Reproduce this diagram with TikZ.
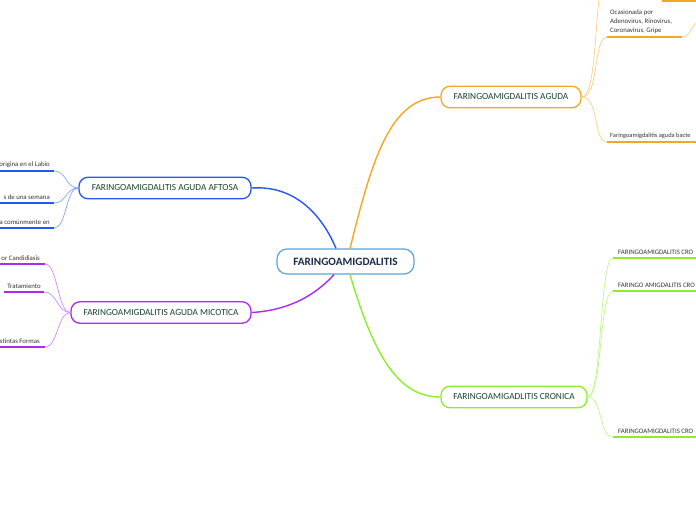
\documentclass[tikz,border=0pt]{standalone}
\usepackage{fontspec}
\setmainfont{Carlito}
\definecolor{rootline}{HTML}{5BA3D9}
\definecolor{roottext}{HTML}{1C2B4A}
\definecolor{topictext}{HTML}{17432F}
\definecolor{leaftext}{HTML}{333333}
\definecolor{orangeM}{HTML}{F5A623}
\definecolor{blueM}{HTML}{2458EE}
\definecolor{purpleM}{HTML}{AA2AEE}
\definecolor{greenM}{HTML}{8CEE2A}
\begin{document}
\begin{tikzpicture}[x=1pt, y=-1pt,
    root/.style={draw=rootline, line width=1.2pt, rounded corners=10pt, fill=white,
      minimum width=137pt, minimum height=25pt, text=roottext, font=\fontsize{11.2}{13}\selectfont\bfseries},
    topic/.style={draw=#1, line width=1.3pt, rounded corners=9pt, fill=white,
      minimum height=21.5pt, text=topictext, font=\fontsize{9.3}{11}\selectfont},
    leaf/.style={text=leaftext, inner sep=1pt, font=\fontsize{6.8}{9}\selectfont},
    bar/.style={line width=2pt, #1},
    link/.style={line width=1.4pt, #1},
    twig/.style={line width=0.7pt, #1!55}]
  \clip (0,0) rectangle (696,520);

  % centro y ramas principales
  \node[root] (faringo) at (345.5,261.5) {FARINGOAMIGDALITIS};
  \node[topic=orangeM, minimum width=140pt] (aguda) at (511,97) {FARINGOAMIGDALITIS AGUDA};
  \node[topic=blueM, minimum width=172pt] (aftosa) at (165,188) {FARINGOAMIGDALITIS AGUDA AFTOSA};
  \node[topic=purpleM, minimum width=180pt] (micotica) at (161,312.5) {FARINGOAMIGDALITIS AGUDA MICOTICA};
  \node[topic=greenM, minimum width=146pt] (cronica) at (514,397) {FARINGOAMIGADLITIS CRONICA};

  \draw[link=blueM] (aftosa.east) .. controls (295,185) and (322,215) .. ([xshift=-9.5pt]faringo.north);
  \draw[link=orangeM] ([xshift=4.5pt]faringo.north) .. controls (372,160) and (390,97) .. (aguda.west);
  \draw[link=purpleM] (micotica.east) .. controls (295,310) and (320,290) .. ([xshift=-11.5pt]faringo.south);
  \draw[link=greenM] ([xshift=4.5pt]faringo.south) .. controls (375,360) and (400,397) .. (cronica.west);

  % AGUDA
  \coordinate (ag0) at (607,-25);
  \coordinate (ag1) at (607,37);
  \coordinate (ag2) at (607,142);
  \foreach \c in {ag0,ag1,ag2}
    \draw[twig=orangeM] (aguda.east) .. controls ([xshift=18pt]aguda.east) and ([xshift=-14pt]\c) .. (\c);
  \draw[bar=orangeM] (662,0.5) -- (696,0.5);
  \draw[bar=orangeM] (ag1) -- (682,37) coordinate (ag1e);
  \draw[twig=orangeM] (ag1e) .. controls (692,37) and (690,22) .. (705,18);
  \node[leaf, anchor=south west, align=left] (ocasion) at (609,35)
    {Ocasionada por\\Adenovirus, Rinovirus,\\Coronavirus, Gripe};
  \draw[bar=orangeM] (ag2) -- (696,142);
  \node[leaf, anchor=south west, font=\fontsize{6.4}{8}\selectfont] (bacte) at (609,140) {Faringoamigdalitis aguda bacte};

  % AFTOSA
  \coordinate (af1) at (54,171);
  \coordinate (af2) at (54,203);
  \coordinate (af3) at (54,228);
  \foreach \c in {af1,af2,af3}
    \draw[twig=blueM] (aftosa.west) .. controls ([xshift=-13pt]aftosa.west) and ([xshift=13pt]\c) .. (\c);
  \draw[bar=blueM] (0,171) -- (af1);
  \draw[bar=blueM] (0,203) -- (af2);
  \draw[bar=blueM] (0,228) -- (af3);
  \node[leaf, anchor=south east] (labio) at (51,169) {origina en el Labio};
  \node[leaf, anchor=south east] (semana) at (51,201) {s de una semana};
  \node[leaf, anchor=south east] (comun) at (51,226) {a comúnmente en};

  % MICOTICA
  \coordinate (mi1) at (45,264);
  \coordinate (mi2) at (44,292);
  \coordinate (mi3) at (45,347);
  \foreach \c in {mi1,mi2,mi3}
    \draw[twig=purpleM] (micotica.west) .. controls ([xshift=-13pt]micotica.west) and ([xshift=13pt]\c) .. (\c);
  \draw[bar=purpleM] (0,264) -- (mi1);
  \draw[bar=purpleM] (4,292) -- (mi2);
  \draw[bar=purpleM] (0,347) -- (mi3);
  \node[leaf, anchor=south east] (candida) at (41,262) {or Candidiasis};
  \node[leaf, anchor=south] (tratam) at (24,290) {Tratamiento};
  \node[leaf, anchor=south east] (formas) at (41,345) {stintas Formas};

  % CRONICA
  \coordinate (cr1) at (613,258);
  \coordinate (cr2) at (613,291);
  \coordinate (cr3) at (613,437);
  \foreach \c in {cr1,cr2,cr3}
    \draw[twig=greenM] (cronica.east) .. controls ([xshift=15pt]cronica.east) and ([xshift=-14pt]\c) .. (\c);
  \draw[bar=greenM] (cr1) -- (696,258);
  \draw[bar=greenM] (cr2) -- (696,291);
  \draw[bar=greenM] (cr3) -- (696,437);
  \node[leaf, anchor=south west, font=\fontsize{6.8}{8}\selectfont] (cro1) at (617,256) {FARINGOAMIGDALITIS CRO};
  \node[leaf, anchor=south west, font=\fontsize{6.8}{8}\selectfont] (cro2) at (617,289) {FARINGO AMIGDALITIS CRO};
  \node[leaf, anchor=south west, font=\fontsize{6.8}{8}\selectfont] (cro3) at (617,435) {FARINGOAMIGDALITIS CRO};
\end{tikzpicture}
\end{document}
